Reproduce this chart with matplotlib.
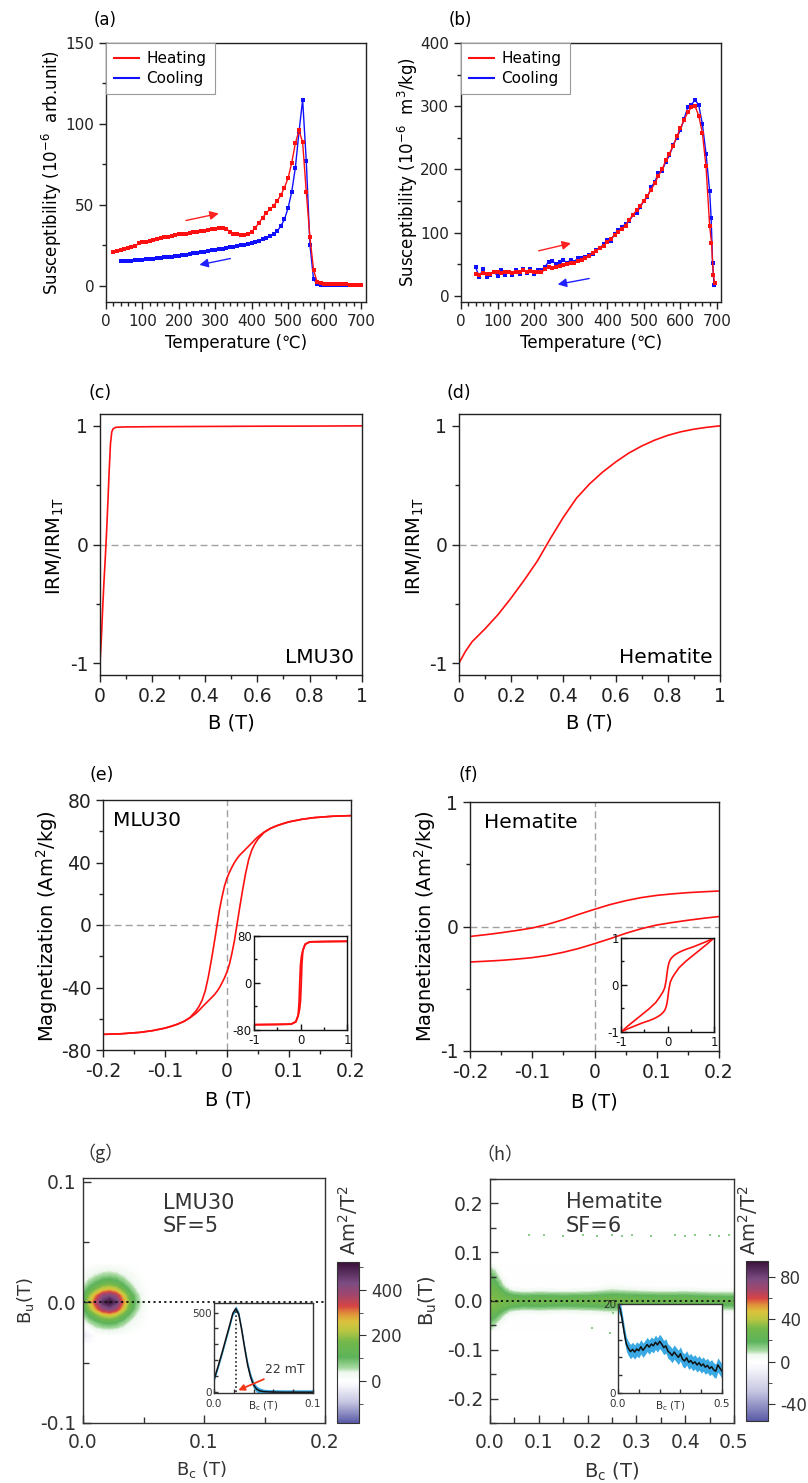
import numpy as np
import matplotlib
matplotlib.use('Agg')
import matplotlib.pyplot as plt
from matplotlib.colors import LinearSegmentedColormap, Normalize
from matplotlib.ticker import MultipleLocator, FixedLocator
from matplotlib.lines import Line2D

plt.rcParams['font.family'] = ['DejaVu Sans']
plt.rcParams['mathtext.fontset'] = 'dejavusans'
plt.rcParams['axes.unicode_minus'] = False

# ---------------- data ----------------
# (a) susceptibility vs temperature, LMU30
T_a_heat = list(range(20, 710, 10))
chi_a_heat = [21.0, 21.5, 22.4, 22.9, 23.4, 23.9, 24.4, 26.3, 27.0, 27.3, 27.9, 28.5, 29.1, 29.6,
              30.0, 30.4, 30.8, 31.3, 31.7, 32.0, 32.2, 32.5, 33.0, 33.3, 33.7, 34.1, 34.6, 34.9,
              35.3, 35.8, 36.0, 35.2, 33.5, 32.3, 31.8, 31.6, 31.6, 32.2, 33.5, 35.8, 38.9, 42.0,
              45.1, 47.2, 49.3, 52.4, 55.9, 60.7, 66.5, 76.0, 88.0, 96.0, 88.6, 58.0, 30.0, 10.0,
              2.2, 1.6, 1.4, 1.3, 1.2, 1.2, 1.1, 1.0, 0.9, 0.8, 0.7, 0.6, 0.5]
T_a_cool = list(range(40, 710, 10))
chi_a_cool = [15.1, 15.2, 15.5, 15.6, 15.8, 16.0, 16.1, 16.3, 16.5, 16.8, 17.0, 17.2, 17.5, 17.8,
              18.1, 18.3, 18.6, 18.9, 19.3, 19.6, 20.0, 20.3, 20.7, 21.1, 21.5, 22.0, 22.4, 22.7,
              23.0, 23.4, 23.7, 24.0, 24.5, 25.0, 25.5, 26.0, 26.5, 27.2, 27.9, 28.7, 29.6, 30.5,
              31.7, 33.7, 36.9, 41.0, 48.0, 58.0, 73.0, 95.0, 115.0, 77.0, 25.5, 4.0, 1.2, 0.8,
              0.6, 0.5, 0.5, 0.4, 0.4, 0.4, 0.3, 0.3, 0.3, 0.2, 0.2]

# (b) susceptibility vs temperature, hematite
T_b_heat = list(range(40, 690, 10)) + [685, 690, 694]
chi_b_heat = [35, 33, 36, 35, 34, 37, 38, 36, 37, 38, 36, 37, 38, 40, 38, 39, 37, 38, 37, 42,
              46, 44, 45, 47, 49, 50, 52, 52, 55, 57, 60, 63, 68, 71, 76, 79, 85, 90, 96, 101,
              106, 111, 120, 128, 135, 142, 150, 158, 168, 178, 190, 200, 214, 225, 237, 252,
              265, 278, 290, 298, 300, 285, 258, 205, 110, 84, 33, 20]
T_b_cool = list(range(40, 690, 10)) + [684, 688, 692]
chi_b_cool = [45, 30, 42, 30, 33, 38, 31, 40, 33, 38, 32, 40, 35, 43, 36, 42, 35, 41, 40, 46,
              54, 55, 50, 53, 56, 52, 57, 54, 60, 59, 62, 64, 66, 72, 75, 82, 88, 87, 98, 104,
              108, 114, 118, 127, 131, 140, 150, 156, 172, 180, 195, 198, 212, 222, 238, 250,
              262, 280, 298, 302, 310, 302, 272, 225, 165, 123, 52, 17]

# (c) IRM, LMU30
B_c = [0, 0.005, 0.01, 0.015, 0.02, 0.025, 0.03, 0.035, 0.04, 0.045, 0.05, 0.06, 0.08, 0.1,
       0.2, 0.4, 0.6, 0.8, 1.0]
irm_c = [-1.0, -0.80, -0.55, -0.32, -0.12, 0.10, 0.35, 0.62, 0.85, 0.95, 0.975, 0.988, 0.99,
         0.991, 0.993, 0.995, 0.997, 0.998, 1.0]

# (d) IRM, hematite
B_d = [0, 0.025, 0.05, 0.075, 0.1, 0.15, 0.2, 0.25, 0.3, 0.35, 0.4, 0.45, 0.5, 0.55, 0.6, 0.65,
       0.7, 0.75, 0.8, 0.85, 0.9, 0.95, 1.0]
irm_d = [-1.0, -0.90, -0.82, -0.765, -0.71, -0.59, -0.45, -0.30, -0.14, 0.05, 0.23, 0.39, 0.51,
         0.61, 0.695, 0.77, 0.83, 0.88, 0.92, 0.95, 0.972, 0.988, 1.0]

# (e) hysteresis loop, MLU30 (descending / ascending branches)
B_e_up = [0.2, 0.17, 0.14, 0.12, 0.1, 0.09, 0.08, 0.07, 0.06, 0.05, 0.045, 0.04, 0.035, 0.03,
          0.025, 0.02, 0.016, 0.012, 0.008, 0.004, 0.0, -0.004, -0.008, -0.012, -0.016, -0.02,
          -0.025, -0.03, -0.035, -0.04, -0.045, -0.05, -0.06, -0.07, -0.08, -0.1, -0.12, -0.14,
          -0.17, -0.2]
M_e_up = [70, 69.6, 68.7, 67.6, 66.0, 64.9, 63.5, 61.8, 59.5, 56.5, 54.6, 52.5, 50.5, 48.5, 46.5,
          44.5, 42.4, 40.0, 37.0, 33.8, 30, 25, 18, 10, 0, -10, -22, -33, -42, -48, -52, -55,
          -59.3, -61.8, -63.5, -66.0, -67.6, -68.7, -69.6, -70]
B_e_low = [-0.2, -0.17, -0.14, -0.12, -0.1, -0.09, -0.08, -0.07, -0.06, -0.05, -0.045, -0.04,
           -0.035, -0.03, -0.025, -0.02, -0.016, -0.012, -0.008, -0.004, 0.0, 0.004, 0.008,
           0.012, 0.016, 0.02, 0.025, 0.03, 0.035, 0.04, 0.045, 0.05, 0.06, 0.07, 0.08, 0.1,
           0.12, 0.14, 0.17, 0.2]
M_e_low = [-70, -69.6, -68.7, -67.6, -66.0, -64.9, -63.5, -61.8, -59.5, -56.5, -54.6, -52.5,
           -50.5, -48.5, -46.5, -44.5, -42.4, -40.0, -37.0, -33.8, -30, -25, -18, -10, 0, 10, 22,
           33, 42, 48, 52, 55, 59.3, 61.8, 63.5, 66.0, 67.6, 68.7, 69.6, 70]
# (e) inset, full loop
B_ei_up = [1.0, 0.5, 0.2, 0.1, 0.05, 0.02, 0.0, -0.016, -0.03, -0.05, -0.1, -0.2, -0.5, -1.0]
M_ei_up = [71, 70.5, 70, 66, 55.5, 45, 30, 0, -33, -55, -66, -70, -70.5, -71]
B_ei_low = [-1.0, -0.5, -0.2, -0.1, -0.05, -0.02, 0.0, 0.016, 0.03, 0.05, 0.1, 0.2, 0.5, 1.0]
M_ei_low = [-71, -70.5, -70, -66, -55.5, -45, -30, 0, 33, 55, 66, 70, 70.5, 71]

# (f) hysteresis loop, hematite
B_f = [-0.2, -0.175, -0.15, -0.125, -0.1, -0.075, -0.05, -0.025, 0, 0.025, 0.05, 0.075, 0.1,
       0.125, 0.15, 0.175, 0.2]
M_f_up = [-0.080, -0.066, -0.050, -0.032, -0.012, 0.018, 0.055, 0.098, 0.138, 0.176, 0.207,
          0.232, 0.250, 0.262, 0.272, 0.279, 0.285]
M_f_low = [-0.285, -0.279, -0.272, -0.262, -0.250, -0.232, -0.207, -0.176, -0.138, -0.098,
           -0.055, -0.018, 0.012, 0.032, 0.050, 0.066, 0.080]
# (f) inset, normalised full loop
B_fi_up = [1.0, 0.85, 0.7, 0.55, 0.4, 0.3, 0.22, 0.15, 0.1, 0.06, 0.03, 0.01, 0.0, -0.01, -0.03,
           -0.06, -0.1, -0.15, -0.25, -0.4, -0.55, -0.7, -0.85, -1.0]
M_fi_up = [1.0, 0.93, 0.87, 0.81, 0.76, 0.72, 0.68, 0.635, 0.59, 0.54, 0.47, 0.38, 0.32, 0.25,
           0.09, -0.06, -0.15, -0.23, -0.37, -0.51, -0.63, -0.75, -0.87, -1.0]
B_fi_low = [-1.0, -0.85, -0.7, -0.55, -0.4, -0.3, -0.22, -0.15, -0.1, -0.06, -0.03, -0.01, 0.0,
            0.01, 0.03, 0.06, 0.1, 0.15, 0.25, 0.4, 0.55, 0.7, 0.85, 1.0]
M_fi_low = [-1.0, -0.93, -0.87, -0.81, -0.76, -0.72, -0.68, -0.635, -0.59, -0.54, -0.47, -0.38,
            -0.32, -0.25, -0.09, 0.06, 0.15, 0.23, 0.37, 0.51, 0.63, 0.75, 0.87, 1.0]

# (g) FORC distribution, LMU30 (Am^2/T^2); rows follow g_bu, columns follow g_bc
g_bc = [0.0, 0.0055, 0.011, 0.0165, 0.022, 0.0275, 0.033, 0.0385, 0.044, 0.0495, 0.055]
g_bu = [-0.033, -0.0275, -0.022, -0.0165, -0.011, -0.0055, 0.0, 0.0055, 0.011, 0.0165, 0.022,
        0.0275, 0.033]
g_rho = [
    [-25, -12, 0, 0, 0, 0, 0, 0, 0, 0, 0],
    [-40, -25, -5, 0, 0, 0, 0, 0, 0, 0, 0],
    [-25, 5, 33, 43, 47, 41, 28, 15, 7, 2, 0],
    [25, 52, 80, 106, 115, 101, 69, 38, 17, 6, 0],
    [52, 106, 164, 216, 235, 207, 141, 77, 35, 12, 0],
    [92, 188, 292, 384, 418, 367, 250, 138, 62, 21, 0],
    [115, 235, 365, 480, 522, 459, 313, 172, 78, 26, 0],
    [94, 193, 299, 394, 428, 376, 257, 141, 64, 21, 0],
    [55, 113, 175, 230, 251, 220, 150, 83, 37, 12, 0],
    [30, 61, 95, 125, 136, 119, 81, 45, 20, 7, 0],
    [15, 31, 47, 62, 68, 60, 41, 22, 10, 3, 0],
    [6, 12, 18, 24, 26, 23, 16, 9, 4, 1, 0],
    [0, 0, 0, 0, 0, 0, 0, 0, 0, 0, 0],
]
g_vmin, g_vmax = -185, 523
# (g) inset: profile along Bu = 0
gi_bc = [0, 0.004, 0.008, 0.012, 0.016, 0.019, 0.022, 0.025, 0.028, 0.031, 0.034, 0.037, 0.040,
         0.043, 0.046, 0.05, 0.055, 0.06, 0.07, 0.08, 0.09, 0.1]
gi_rho = [80, 160, 245, 335, 425, 495, 525, 490, 390, 275, 170, 95, 45, 20, 9, 4, 2, 1, 0, 0, 0, 0]
gi_err = [15, 15, 15, 15, 15, 15, 18, 18, 20, 22, 25, 25, 22, 20, 18, 15, 15, 15, 15, 15, 15, 15]
g_peak_bc, g_peak_rho = 0.022, 522

# (h) FORC distribution, hematite; each inner list is one column (fixed Bc) over h_bu
h_bc = [0, 0.01, 0.02, 0.03, 0.04, 0.05, 0.07, 0.1, 0.15, 0.2, 0.25, 0.3, 0.35, 0.4, 0.45, 0.5]
h_bu = [-0.06, -0.045, -0.03, -0.02, -0.01, -0.005, 0, 0.005, 0.01, 0.02, 0.03, 0.045, 0.06,
        0.075]
h_rho_cols = [
    [8, 14, 24, 30, 33, 34, 34, 34, 33, 31, 28, 22, 14, 5],
    [3, 10, 20, 27, 31, 32, 33, 32, 31, 29, 24, 17, 9, 1],
    [0, 4, 13, 22, 29, 31, 32, 31, 29, 24, 16, 8, 2, 0],
    [0, 1, 6, 15, 26, 29, 31, 29, 26, 16, 7, 2, 0, 0],
    [0, 0, 2, 9, 22, 27, 30, 27, 22, 10, 2, 0, 0, 0],
    [0, 0, 1, 7, 20, 26, 29, 26, 20, 7, 1, 0, 0, 0],
    [0, 0, 0, 5, 18, 24, 27, 24, 18, 5, 0, 0, 0, 0],
    [0, 0, 0, 6, 19, 25, 28, 25, 19, 6, 0, 0, 0, 0],
    [0, 0, 0, 5, 17, 23, 26, 24, 18, 5, 0, 0, 0, 0],
    [0, 0, 0, 6, 19, 24, 27, 25, 19, 6, 0, 0, 0, 0],
    [0, 0, 2, 9, 21, 27, 31, 28, 22, 10, 3, 0, 0, 0],
    [0, 0, 1, 7, 20, 26, 29, 26, 20, 8, 1, 0, 0, 0],
    [0, 0, 0, 6, 18, 24, 27, 24, 19, 6, 0, 0, 0, 0],
    [0, 0, 0, 6, 19, 25, 28, 25, 19, 7, 0, 0, 0, 0],
    [0, 0, 0, 5, 17, 23, 26, 23, 17, 5, 0, 0, 0, 0],
    [0, 0, 0, 5, 16, 22, 25, 22, 16, 5, 0, 0, 0, 0],
]
h_vmin, h_vmax = -56, 95
h_spot_bc = [0.08, 0.11, 0.15, 0.19, 0.22, 0.25, 0.27, 0.29, 0.33, 0.38, 0.40, 0.42, 0.45,
             0.47, 0.49, 0.21, 0.245, 0.252, 0.293, 0.36]
h_spot_bu = [0.135, 0.135, 0.134, 0.135, 0.134, 0.135, 0.134, 0.135, 0.134, 0.135, 0.134, 0.135,
             0.135, 0.134, 0.135, -0.056, -0.066, -0.025, -0.022, -0.012]
# (h) inset: profile along Bu = 0
hi_bc = [round(0.01 * i, 2) for i in range(51)]
hi_rho = [20.0, 19.0, 16.5, 13.5, 11.0, 10.0, 9.3, 9.8, 9.2, 9.9, 9.5, 10.4, 9.6, 10.2, 10.9,
          10.3, 11.0, 10.6, 11.4, 10.8, 11.6, 11.0, 10.2, 10.6, 9.4, 9.0, 8.4, 9.2, 8.6, 8.0,
          8.8, 7.6, 7.2, 7.9, 6.9, 7.3, 6.6, 7.0, 6.3, 6.8, 6.1, 6.5, 5.8, 6.2, 5.5, 5.9, 5.2,
          4.9, 6.3, 5.6, 4.9]
hi_err = 1.6

# ---------------- figure ----------------
W, H = 808, 1483
fig = plt.figure(figsize=(W / 100, H / 100), dpi=100)
fig.patch.set_facecolor('white')


def add_ax(box):
    l, t, r, b = box
    return fig.add_axes([l / W, 1 - b / H, (r - l) / W, (b - t) / H])


def frac(box, xp, yp):
    l, t, r, b = box
    return (xp - l) / (r - l), (b - yp) / (b - t)


def set_labels(ax, box, xl, xpos, yl, ypos, xsize, ysize=None, color=None):
    ysize = ysize or xsize
    ax.set_xlabel(xl, va='center', ha='center', fontsize=xsize)
    ax.xaxis.set_label_coords(*frac(box, *xpos))
    ax.set_ylabel(yl, va='center', ha='center', rotation=90, fontsize=ysize)
    ax.yaxis.set_label_coords(*frac(box, *ypos))
    if color:
        ax.xaxis.label.set_color(color)
        ax.yaxis.label.set_color(color)


def panel_label(txt, xp, yp, size=12, **kw):
    fig.text(xp / W, 1 - yp / H, txt, ha='center', va='center', fontsize=size, **kw)


def style(ax, size, direction='out', color='#222222'):
    for s in ax.spines.values():
        s.set_color(color)
        s.set_linewidth(1.0)
    ax.tick_params(which='both', direction=direction, top=False, right=False,
                   labelsize=size, colors=color, width=1.0)
    ax.tick_params(which='major', length=5)
    ax.tick_params(which='minor', length=3)


GRAYDASH = dict(color='#a0a0a0', ls=(0, (5, 3)), lw=1.0)
RED, BLUE = '#ff1010', '#1010ff'

# ---- (a)
box_a = (106, 43, 366, 302)
ax = add_ax(box_a)
ax.plot(T_a_cool, chi_a_cool, '-s', color=BLUE, ms=3.4, lw=1.0, mew=0)
ax.plot(T_a_heat, chi_a_heat, '-s', color=RED, ms=3.4, lw=1.0, mew=0)
ax.set_xlim(0, 714)
ax.set_ylim(-10, 150)
ax.xaxis.set_major_locator(MultipleLocator(100))
ax.xaxis.set_minor_locator(MultipleLocator(20))
ax.yaxis.set_major_locator(FixedLocator([0, 50, 100, 150]))
ax.yaxis.set_minor_locator(MultipleLocator(25))
style(ax, 11)
ax.annotate('', xy=(317, 45), xytext=(212, 40),
            arrowprops=dict(arrowstyle='-|>', color='#ff2020', lw=1.0, mutation_scale=13))
ax.annotate('', xy=(249, 12.6), xytext=(349, 17.2),
            arrowprops=dict(arrowstyle='-|>', color='#2020ff', lw=1.0, mutation_scale=13))
leg_handles = [Line2D([], [], color=RED, lw=1.5), Line2D([], [], color=BLUE, lw=1.5)]
LEGKW = dict(loc='upper left', borderaxespad=0, fancybox=False, edgecolor='#999999',
             framealpha=1, fontsize=11, handlelength=1.6, handletextpad=0.5, borderpad=0.55,
             labelspacing=0.3)
lg = ax.legend(leg_handles, ['Heating', 'Cooling'], **LEGKW)
lg.get_frame().set_linewidth(0.8)
set_labels(ax, box_a, 'Temperature (\u2103)', (236, 343),
           'Susceptibility (10$^{-6}$  arb.unit)', (52, 172), 12)
panel_label('(a)', 105, 20)

# ---- (b)
box_b = (461, 43, 721, 302)
ax = add_ax(box_b)
ax.plot(T_b_cool, chi_b_cool, '-s', color=BLUE, ms=3.4, lw=1.0, mew=0)
ax.plot(T_b_heat, chi_b_heat, '-s', color=RED, ms=3.4, lw=1.0, mew=0)
ax.set_xlim(0, 711)
ax.set_ylim(-10, 400)
ax.xaxis.set_major_locator(MultipleLocator(100))
ax.xaxis.set_minor_locator(MultipleLocator(20))
ax.yaxis.set_major_locator(FixedLocator([0, 100, 200, 300, 400]))
ax.yaxis.set_minor_locator(MultipleLocator(50))
style(ax, 11)
ax.annotate('', xy=(308, 84), xytext=(205, 70),
            arrowprops=dict(arrowstyle='-|>', color='#ff2020', lw=1.0, mutation_scale=13))
ax.annotate('', xy=(257, 17), xytext=(358, 28),
            arrowprops=dict(arrowstyle='-|>', color='#2020ff', lw=1.0, mutation_scale=13))
lg = ax.legend(leg_handles, ['Heating', 'Cooling'], **LEGKW)
lg.get_frame().set_linewidth(0.8)
set_labels(ax, box_b, 'Temperature (\u2103)', (591, 343),
           'Susceptibility (10$^{-6}$  m$^{3}$/kg)', (408, 172), 12)
panel_label('(b)', 460, 20)

XT = [0, 0.2, 0.4, 0.6, 0.8, 1.0]
XTL = ['0', '0.2', '0.4', '0.6', '0.8', '1']
IRMLAB = 'IRM/IRM$_\\mathregular{1T}$'

# ---- (c)
box_c = (100, 414, 362, 675)
ax = add_ax(box_c)
ax.axhline(0, **GRAYDASH)
ax.plot(B_c, irm_c, color=RED, lw=1.2)
ax.set_xlim(0, 1)
ax.set_ylim(-1.1, 1.1)
ax.set_xticks(XT, XTL)
ax.xaxis.set_minor_locator(MultipleLocator(0.1))
ax.yaxis.set_major_locator(FixedLocator([-1, 0, 1]))
ax.yaxis.set_minor_locator(MultipleLocator(0.5))
style(ax, 13.5)
ax.text(0.97, 0.03, 'LMU30', transform=ax.transAxes, ha='right', va='bottom', fontsize=14.5)
set_labels(ax, box_c, 'B (T)', (231, 723), IRMLAB, (55, 546), 14)
panel_label('(c)', 100, 393, size=12.5)

# ---- (d)
box_d = (459, 414, 720, 675)
ax = add_ax(box_d)
ax.axhline(0, **GRAYDASH)
ax.plot(B_d, irm_d, color=RED, lw=1.2)
ax.set_xlim(0, 1)
ax.set_ylim(-1.1, 1.1)
ax.set_xticks(XT, XTL)
ax.xaxis.set_minor_locator(MultipleLocator(0.1))
ax.yaxis.set_major_locator(FixedLocator([-1, 0, 1]))
ax.yaxis.set_minor_locator(MultipleLocator(0.5))
style(ax, 13.5)
ax.text(0.97, 0.03, 'Hematite', transform=ax.transAxes, ha='right', va='bottom',
        fontsize=14.5)
set_labels(ax, box_d, 'B (T)', (589, 723), IRMLAB, (415, 546), 14)
panel_label('(d)', 459, 393, size=12.5)

# ---- (e)
box_e = (103, 800, 351, 1050)
ax = add_ax(box_e)
ax.axhline(0, **GRAYDASH)
ax.axvline(0, **GRAYDASH)
ax.plot(B_e_up, M_e_up, color=RED, lw=1.2)
ax.plot(B_e_low, M_e_low, color=RED, lw=1.2)
ax.set_xlim(-0.2, 0.2)
ax.set_ylim(-80, 80)
ax.set_xticks([-0.2, -0.1, 0, 0.1, 0.2], ['-0.2', '-0.1', '0', '0.1', '0.2'])
ax.xaxis.set_minor_locator(MultipleLocator(0.05))
ax.yaxis.set_major_locator(FixedLocator([-80, -40, 0, 40, 80]))
ax.yaxis.set_minor_locator(MultipleLocator(20))
style(ax, 13.5)
ax.text(0.04, 0.955, 'MLU30', transform=ax.transAxes, ha='left', va='top', fontsize=14.5)
set_labels(ax, box_e, 'B (T)', (228, 1100), 'Magnetization (Am$^{2}$/kg)', (47, 926), 14)
panel_label('(e)', 102, 775, size=12.5)

box_ei = (254, 936, 347, 1030)
axi = add_ax(box_ei)
axi.plot(B_ei_up, M_ei_up, color=RED, lw=1.3)
axi.plot(B_ei_low, M_ei_low, color=RED, lw=1.3)
axi.set_xlim(-1, 1)
axi.set_ylim(-80, 80)
axi.set_xticks([-1, 0, 1], ['-1', '0', '1'])
axi.xaxis.set_minor_locator(MultipleLocator(0.5))
axi.set_yticks([-80, 0, 80], ['-80', '0', '80'])
axi.yaxis.set_minor_locator(MultipleLocator(40))
style(axi, 8.5, direction='in', color='#111111')
axi.tick_params(which='major', length=4)
axi.tick_params(which='minor', length=2.5)
axi.tick_params(axis='x', pad=3)
axi.tick_params(axis='y', pad=1.5)

# ---- (f)
box_f = (470, 802, 719, 1051)
ax = add_ax(box_f)
ax.axhline(0, **GRAYDASH)
ax.axvline(0, **GRAYDASH)
ax.plot(B_f, M_f_up, color=RED, lw=1.2)
ax.plot(B_f, M_f_low, color=RED, lw=1.2)
ax.set_xlim(-0.2, 0.2)
ax.set_ylim(-1, 1)
ax.set_xticks([-0.2, -0.1, 0, 0.1, 0.2], ['-0.2', '-0.1', '0', '0.1', '0.2'])
ax.xaxis.set_minor_locator(MultipleLocator(0.05))
ax.yaxis.set_major_locator(FixedLocator([-1, 0, 1]))
ax.yaxis.set_minor_locator(MultipleLocator(0.5))
style(ax, 13.5)
ax.text(0.055, 0.955, 'Hematite', transform=ax.transAxes, ha='left', va='top', fontsize=14.5)
set_labels(ax, box_f, 'B (T)', (594, 1102), 'Magnetization (Am$^{2}$/kg)', (425, 926), 14)
panel_label('(f)', 468, 775, size=12.5)

box_fi = (621, 938, 714, 1032)
axi = add_ax(box_fi)
axi.plot(B_fi_up, M_fi_up, color=RED, lw=1.2)
axi.plot(B_fi_low, M_fi_low, color=RED, lw=1.2)
axi.set_xlim(-1, 1)
axi.set_ylim(-1, 1)
axi.set_xticks([-1, 0, 1], ['-1', '0', '1'])
axi.xaxis.set_minor_locator(MultipleLocator(0.5))
axi.set_yticks([-1, 0, 1], ['-1', '0', '1'])
axi.yaxis.set_minor_locator(MultipleLocator(0.5))
style(axi, 8.5, direction='in', color='#111111')
axi.tick_params(which='major', length=4)
axi.tick_params(which='minor', length=2.5)
axi.tick_params(axis='x', pad=3)
axi.tick_params(axis='y', pad=1.5)

# ---------------- FORC colormap ----------------
POS_ANCH = [(0.0, '#ffffff'), (0.07, '#eef7ee'), (0.11, '#a6d9a0'), (0.2, '#5db35b'),
            (0.33, '#74b84a'), (0.42, '#b9c642'), (0.5, '#dcc23c'), (0.57, '#e08c3a'),
            (0.63, '#d64444'), (0.72, '#a3466c'), (0.82, '#7c4c82'), (0.92, '#552c5a'),
            (1.0, '#3a1038')]
NEG_ANCH = [(0.0, '#ffffff'), (0.12, '#f5f5fb'), (0.5, '#c6c6e2'), (1.0, '#5a5aa6')]


def forc_cmap(vmin, vmax):
    z = -vmin / (vmax - vmin)
    pts = [(z - f * z, c) for f, c in reversed(NEG_ANCH)]
    pts += [(z + f * (1 - z), c) for f, c in POS_ANCH[1:]]
    return LinearSegmentedColormap.from_list('forc', pts, N=512)


DARK = '#333333'


def forc_colorbar(box, norm, cmap, ticks, minor, label_x):
    cax = add_ax(box)
    cb = fig.colorbar(plt.cm.ScalarMappable(norm=norm, cmap=cmap), cax=cax)
    cb.set_ticks(ticks)
    cb.ax.yaxis.set_minor_locator(MultipleLocator(minor))
    cb.outline.set_edgecolor(DARK)
    cb.ax.tick_params(which='major', length=5, labelsize=12, colors=DARK)
    cb.ax.tick_params(which='minor', length=3, colors=DARK)
    fig.text(label_x / W, 1 - 1220 / H, 'Am$^\\mathregular{2}$/T$^\\mathregular{2}$',
             rotation=90, ha='center', va='center', fontsize=14, color=DARK)


def profile_inset(box, x, y, lo, hi, xmax, ymin, ymax, xt, xtl, yt, ytl, xminor, yminor):
    axi = add_ax(box)
    axi.fill_between(x, lo, hi, color='#3aa8e2', lw=0)
    axi.plot(x, y, color='#111111', lw=1.1)
    axi.set_xlim(0, xmax)
    axi.set_ylim(ymin, ymax)
    axi.set_xticks(xt, xtl)
    axi.xaxis.set_minor_locator(MultipleLocator(xminor))
    axi.set_yticks(yt, ytl)
    axi.yaxis.set_minor_locator(MultipleLocator(yminor))
    style(axi, 7.5, direction='in', color=DARK)
    axi.tick_params(which='both', length=3)
    axi.tick_params(axis='x', pad=4)
    axi.tick_params(axis='y', pad=1.5)
    axi.text(0.5, -0.07, 'B$_\\mathregular{c}$ (T)', transform=axi.transAxes, ha='center',
             va='top', fontsize=7.5, color=DARK)
    return axi


def forc_axes_style(ax):
    style(ax, 13.5, direction='in', color=DARK)
    ax.tick_params(which='major', length=6)
    ax.tick_params(which='minor', length=4)
    ax.tick_params(axis='x', pad=7)
    ax.tick_params(axis='y', pad=5)


# ---- (g)
box_g = (83, 1178, 325, 1423)
ax = add_ax(box_g)
cm_g = forc_cmap(g_vmin, g_vmax)
norm_g = Normalize(g_vmin, g_vmax)
ax.contourf(g_bc, g_bu, np.array(g_rho), levels=np.linspace(g_vmin, g_vmax, 160),
            cmap=cm_g, norm=norm_g)
ax.axhline(0, color='#111111', ls=(0, (1.2, 1.8)), lw=1.3)
ax.set_xlim(0, 0.2)
ax.set_ylim(-0.1, 0.103)
ax.set_xticks([0, 0.1, 0.2], ['0.0', '0.1', '0.2'])
ax.xaxis.set_minor_locator(MultipleLocator(0.05))
ax.set_yticks([-0.1, 0, 0.1], ['-0.1', '0.0', '0.1'])
ax.yaxis.set_minor_locator(MultipleLocator(0.05))
forc_axes_style(ax)
ax.text(0.33, 0.94, 'LMU30\nSF=5', transform=ax.transAxes, ha='left', va='top', fontsize=15,
        color=DARK, linespacing=1.2)
set_labels(ax, box_g, 'B$_\\mathregular{c}$ (T)', (202, 1470), 'B$_\\mathregular{u}$(T)',
           (25, 1301), 13, color=DARK)
panel_label('\uff08g\uff09', 100, 1153, size=13, family=['Noto Sans CJK SC', 'DejaVu Sans'],
            color='#333333')
forc_colorbar((337, 1262, 359, 1423), norm_g, cm_g, [0, 200, 400], 100, 348)

axi = profile_inset((214, 1303, 313, 1393), gi_bc, gi_rho,
                    [v - e for v, e in zip(gi_rho, gi_err)],
                    [v + e for v, e in zip(gi_rho, gi_err)],
                    0.1, -5, 560, [0, 0.1], ['0.0', '0.1'], [0, 500], ['0', '500'], 0.02, 100)
axi.vlines(g_peak_bc, 0, g_peak_rho, colors='#222222', linestyles=(0, (1, 1.5)), lw=1.2)
axi.annotate('22 mT', xy=(0.0245, 12), xytext=(0.052, 140), fontsize=9, color=DARK,
             va='center', ha='left',
             arrowprops=dict(arrowstyle='-|>', color='#f03818', lw=1.3, mutation_scale=9,
                             shrinkA=0, shrinkB=0))

# ---- (h)
box_h = (490, 1179, 734, 1423)
ax = add_ax(box_h)
cm_h = forc_cmap(h_vmin, h_vmax)
norm_h = Normalize(h_vmin, h_vmax)
ax.contourf(h_bc, h_bu, np.array(h_rho_cols).T, levels=np.linspace(h_vmin, h_vmax, 160),
            cmap=cm_h, norm=norm_h)
ax.plot(h_spot_bc, h_spot_bu, 's', ms=1.6, mew=0, color='#8ccc88')
ax.axhline(0, color='#111111', ls=(0, (1.2, 1.8)), lw=1.3)
ax.set_xlim(0, 0.5)
ax.set_ylim(-0.25, 0.25)
ax.set_xticks([0, 0.1, 0.2, 0.3, 0.4, 0.5], ['0.0', '0.1', '0.2', '0.3', '0.4', '0.5'])
ax.xaxis.set_minor_locator(MultipleLocator(0.05))
ax.set_yticks([-0.2, -0.1, 0, 0.1, 0.2], ['-0.2', '-0.1', '0.0', '0.1', '0.2'])
ax.yaxis.set_minor_locator(MultipleLocator(0.05))
forc_axes_style(ax)
ax.text(0.31, 0.945, 'Hematite\nSF=6', transform=ax.transAxes, ha='left', va='top',
        fontsize=15, color=DARK, linespacing=1.2)
set_labels(ax, box_h, 'B$_\\mathregular{c}$ (T)', (612, 1472), 'B$_\\mathregular{u}$(T)',
           (428, 1301), 14, color=DARK)
panel_label('\uff08h\uff09', 500, 1155, size=13, family=['Noto Sans CJK SC', 'DejaVu Sans'],
            color='#333333')
forc_colorbar((746, 1261, 768, 1421), norm_h, cm_h, [-40, 0, 40, 80], 20, 748)

profile_inset((618, 1304, 722, 1393), hi_bc, hi_rho, [v - hi_err for v in hi_rho],
              [v + hi_err for v in hi_rho], 0.5, 0, 20, [0, 0.5], ['0.0', '0.5'],
              [0, 20], ['0', '20'], 0.1, 4)

fig.savefig('out.png', dpi=100)
